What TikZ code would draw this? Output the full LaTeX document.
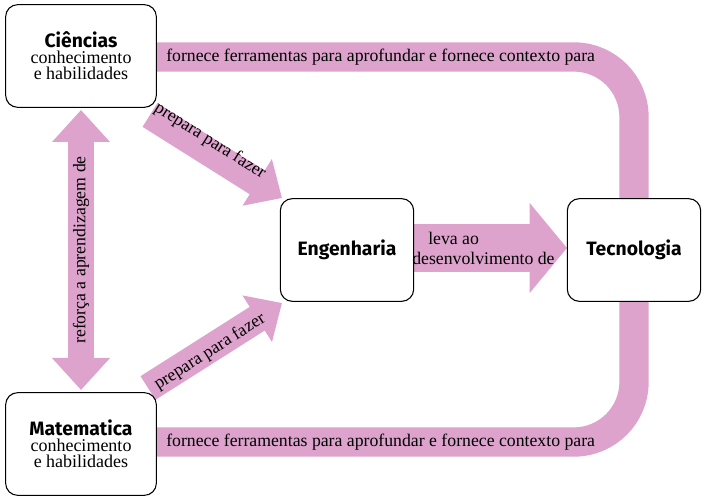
\documentclass[tikz,border=0pt]{standalone}
\usepackage{fontspec}
\setmainfont{Liberation Serif}
\newfontfamily\titlefont{Fira Sans}
\newcommand\ttlf{\titlefont\fontseries{sb}\selectfont\fontsize{14.5}{17}\selectfont}
\newcommand\bodyf{\rmfamily\mdseries\fontsize{13.5}{16.5}\selectfont}
\usetikzlibrary{arrows.meta}
\definecolor{pinkar}{HTML}{DDA3CD}
\tikzset{
  box/.style={draw=black, line width=0.8pt, rounded corners=9pt, fill=white, minimum width=113pt, minimum height=77pt, align=center, inner sep=2pt},
  box2/.style={box, minimum width=100pt},
  big/.style={draw=pinkar, line width=22pt, -{Triangle[length=25pt,width=42pt]}},
  mid/.style={draw=pinkar, line width=21pt, -{Triangle[length=22pt,width=40pt]}},
  lab/.style={font=\rmfamily\fontsize{13.3}{15}\selectfont, inner sep=0pt}
}
\begin{document}
\begin{tikzpicture}[x=0.75pt,y=-0.75pt]
\useasboundingbox (0,0) rectangle (707,502);
\coordinate (cc) at (81,56);
\coordinate (mc) at (81,444);
\coordinate (ec) at (347,250);
\coordinate (tc) at (634,250);
% arrows
\draw[big, rounded corners=45pt] (634,210) -- (634,57) -- (170,57) -- (160,57);
\draw[big, rounded corners=45pt] (634,290) -- (634,442) -- (170,442) -- (160,442);
\draw[draw=pinkar, line width=19pt, {Triangle[length=24pt,width=42pt]}-{Triangle[length=24pt,width=42pt]}] (81,110) -- (81,390);
\draw[mid] (150,115) -- (282,198);
\draw[mid] (148,388) -- (282,303);
\draw[draw=pinkar, line width=36pt, -{Triangle[length=28pt,width=66pt]}] (410,248) -- (567,248);
% boxes
\node[box] (cie) at (cc) {{\ttlf Ciências}\\{\bodyf conhecimento}\\{\bodyf e habilidades}};
\node[box] (mat) at (mc) {{\ttlf Matematica}\\{\bodyf conhecimento}\\{\bodyf e habilidades}};
\node[box2] (eng) at (ec) {\ttlf Engenharia};
\node[box2] (tec) at (tc) {\ttlf Tecnologia};
% labels
\node[lab, anchor=west] (l1) at (166,57) {fornece ferramentas para aprofundar e fornece contexto para};
\node[lab, anchor=west] (l2) at (166,442) {fornece ferramentas para aprofundar e fornece contexto para};
\node[lab, rotate=90] (l3) at (81,250) {reforça a aprendizagem de};
\node[lab, rotate=-32.2] (l4) at (210,141) {prepara para fazer};
\node[lab, rotate=32.4] (l5) at (210,352) {prepara para fazer};
\node[lab, anchor=west, align=left] (l6) at (412,248) {\hspace*{12pt}leva ao\\desenvolvimento de};
\end{tikzpicture}
\end{document}
